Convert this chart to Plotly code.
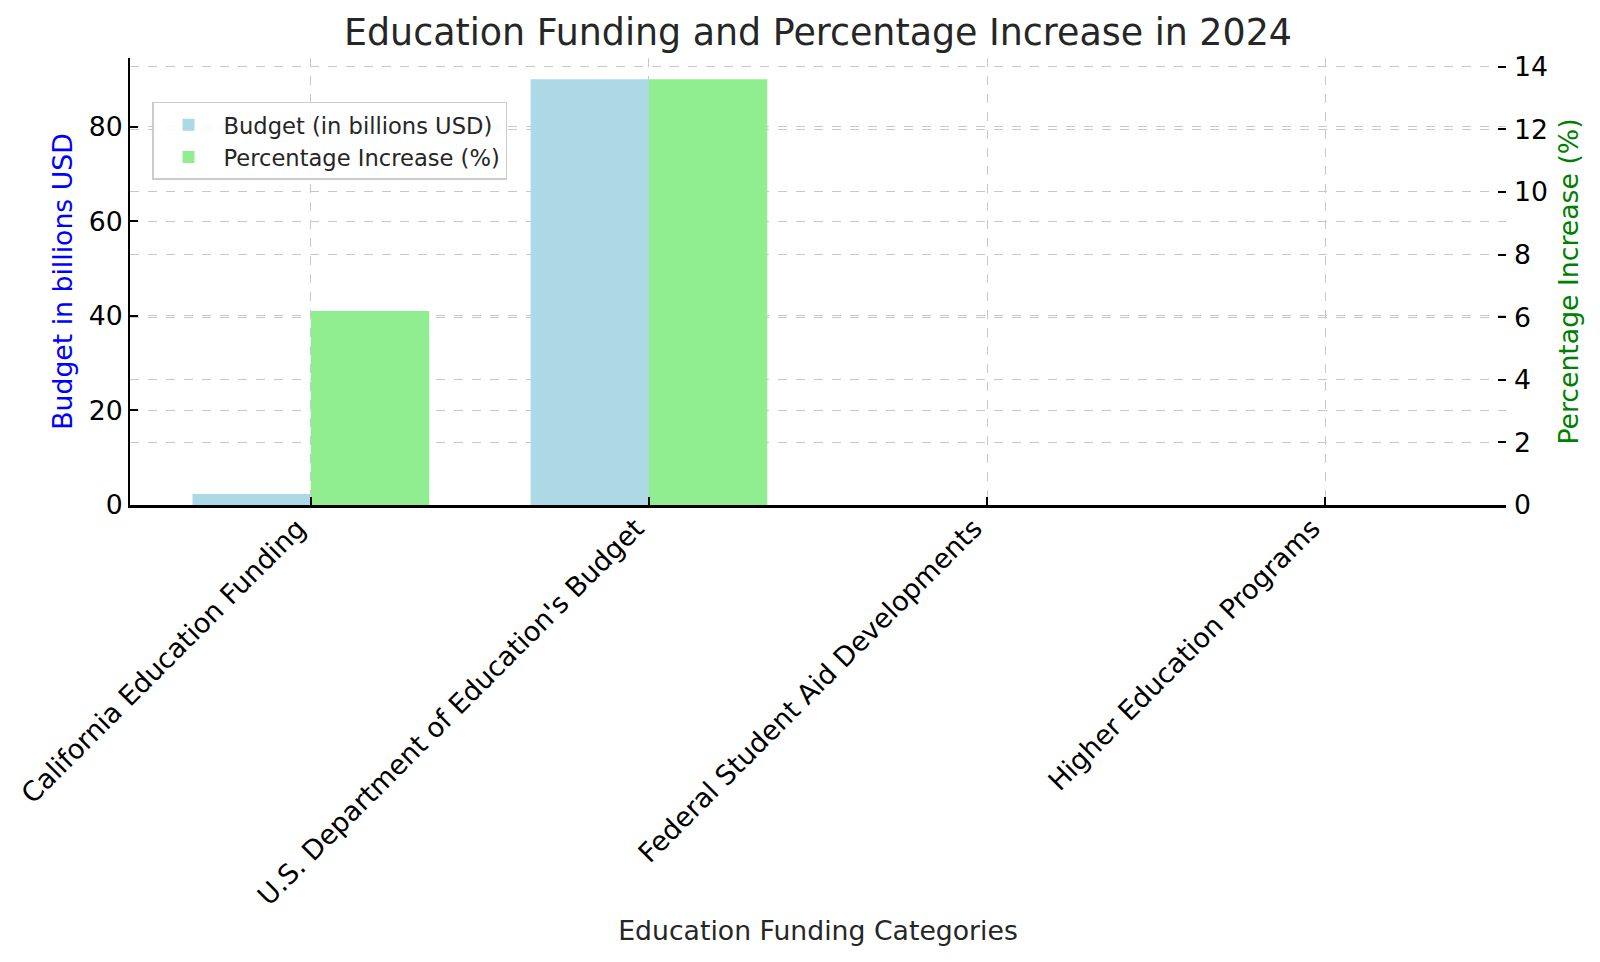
import plotly.graph_objects as go

categories = [
    "California Education Funding",
    "U.S. Department of Education's Budget",
    "Federal Student Aid Developments",
    "Higher Education Programs",
]
budget_billions = [2.3, 90, 0, 0]
pct_increase = [6.2, 13.6, 0, 0]

positions = list(range(len(categories)))
bar_w = 0.35
FONT = "DejaVu Sans"

fig = go.Figure()
fig.add_trace(go.Bar(
    x=positions, y=budget_billions, name="Budget (in billions USD)",
    marker=dict(color="#ADD8E6", line=dict(width=0)),
    width=bar_w, offset=-bar_w, yaxis="y",
))
fig.add_trace(go.Bar(
    x=positions, y=pct_increase, name="Percentage Increase (%)",
    marker=dict(color="#90EE90", line=dict(width=0)),
    width=bar_w, offset=0, yaxis="y2",
))

grid = dict(showgrid=True, gridcolor="#c8c8c8", griddash="dash", gridwidth=1)

fig.update_layout(
    width=1600, height=962,
    margin=dict(l=130, r=94, t=58, b=457),
    paper_bgcolor="white", plot_bgcolor="white",
    font=dict(family=FONT, color="#000000"),
    title=dict(text="Education Funding and Percentage Increase in 2024",
               x=(130 + 1506) / 2 / 1600, xanchor="center",
               y=1 - 32 / 962, yanchor="middle",
               font=dict(size=36.4, color="#262626", family=FONT)),
    barmode="overlay",
    showlegend=True,
    legend=dict(x=0.016, y=0.9016, xanchor="left", yanchor="top",
                bgcolor="rgba(255,255,255,0.85)", bordercolor="#cccccc",
                borderwidth=1.5, font=dict(size=22.6, color="#262626", family=FONT),
                itemwidth=60),
    xaxis=dict(
        range=[-0.535, len(categories) - 1 + 0.535],
        tickvals=positions, ticktext=categories, tickangle=-45,
        tickfont=dict(size=27.1, color="#000000"),
        ticks="inside", ticklen=8, tickwidth=1.5, tickcolor="black",
        ticklabelshift=-13, ticklabelstandoff=-6,
        showline=True, linecolor="black", linewidth=2.5, zeroline=False,
        title=dict(text="Education Funding Categories",
                   font=dict(size=26.7, color="#262626"), standoff=12),
        **grid,
    ),
    yaxis=dict(
        range=[0, max(budget_billions) * 1.05], dtick=20,
        tickfont=dict(size=26.7, color="#000000"),
        ticks="inside", ticklen=8, tickwidth=1.5, tickcolor="black",
        showline=True, linecolor="black", linewidth=2, zeroline=False,
        title=dict(text="Budget in billions USD",
                   font=dict(size=26.7, color="blue"), standoff=8),
        **grid,
    ),
    yaxis2=dict(
        range=[0, max(pct_increase) * 1.05], dtick=2,
        overlaying="y", side="right",
        tickfont=dict(size=26.7, color="#000000"),
        ticks="inside", ticklen=8, tickwidth=1.5, tickcolor="black",
        ticklabelstandoff=7,
        showline=False, zeroline=False,
        title=dict(text="Percentage Increase (%)",
                   font=dict(size=26.7, color="green"), standoff=12),
        **grid,
    ),
)

fig.write_html("out.html")
